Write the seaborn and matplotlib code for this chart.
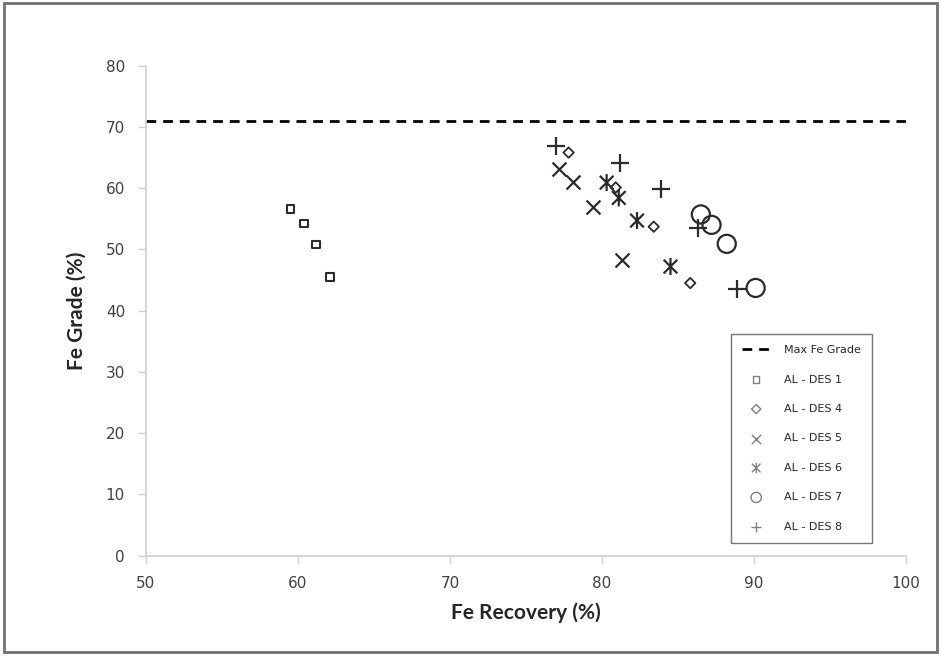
import matplotlib
matplotlib.use('Agg')
import matplotlib.pyplot as plt
from matplotlib.path import Path
from matplotlib.patches import Rectangle
import seaborn as sns
import pandas as pd

# Data
max_fe_grade = 71.0

des1_rec = [59.5, 60.4, 61.2, 62.1]
des1_grade = [56.6, 54.2, 50.8, 45.5]

des4_rec = [77.8, 80.9, 83.4, 85.8]
des4_grade = [65.8, 60.1, 53.7, 44.5]

des5_rec = [77.2, 78.1, 79.4, 81.3]
des5_grade = [63.2, 61.0, 56.9, 48.2]

des6_rec = [80.3, 81.1, 82.3, 84.5]
des6_grade = [60.9, 58.4, 54.7, 47.2]

des7_rec = [86.5, 87.2, 88.2, 90.1]
des7_grade = [55.7, 54.0, 50.9, 43.7]

des8_rec = [77.0, 81.2, 83.9, 86.3, 88.9]
des8_grade = [66.8, 64.1, 59.9, 53.5, 43.5]

series_names = ['AL - DES 1', 'AL - DES 4', 'AL - DES 5', 'AL - DES 6', 'AL - DES 7', 'AL - DES 8']

# Excel style "star" marker: an X with a vertical bar
star = Path(
    [(-0.8, -0.8), (0.8, 0.8), (-0.8, 0.8), (0.8, -0.8), (0, -1.0), (0, 1.0)],
    [Path.MOVETO, Path.LINETO, Path.MOVETO, Path.LINETO, Path.MOVETO, Path.LINETO],
)

sns.set_style('white')
plt.rcParams['font.family'] = ['DejaVu Sans']

fig = plt.figure(figsize=(9.41, 6.56), dpi=100)
ax = fig.add_axes([0.155, 0.153, 0.808, 0.747])

ax.axhline(max_fe_grade, ls='--', color='black', lw=2, dashes=(3.5, 2.5), label='Max Fe Grade')

ink = '#2b2b2b'

df1 = pd.DataFrame({'rec': des1_rec, 'grade': des1_grade})
sns.scatterplot(data=df1, x='rec', y='grade', marker='s', s=30, color=ink,
                facecolor='none', edgecolor=ink, linewidth=1.5, label=series_names[0], ax=ax)

df4 = pd.DataFrame({'rec': des4_rec, 'grade': des4_grade})
sns.scatterplot(data=df4, x='rec', y='grade', marker='D', s=28, color=ink,
                facecolor='none', edgecolor=ink, linewidth=1.3, label=series_names[1], ax=ax)

df5 = pd.DataFrame({'rec': des5_rec, 'grade': des5_grade})
sns.scatterplot(data=df5, x='rec', y='grade', marker='x', s=100, color=ink,
                linewidth=1.6, label=series_names[2], ax=ax)

df6 = pd.DataFrame({'rec': des6_rec, 'grade': des6_grade})
sns.scatterplot(data=df6, x='rec', y='grade', marker=star, s=150, color=ink,
                facecolor='none', edgecolor=ink, linewidth=1.6, label=series_names[3], ax=ax)

df7 = pd.DataFrame({'rec': des7_rec, 'grade': des7_grade})
sns.scatterplot(data=df7, x='rec', y='grade', marker='o', s=170, color=ink,
                facecolor='none', edgecolor=ink, linewidth=1.6, label=series_names[4], ax=ax)

df8 = pd.DataFrame({'rec': des8_rec, 'grade': des8_grade})
sns.scatterplot(data=df8, x='rec', y='grade', marker='+', s=150, color=ink,
                linewidth=1.6, label=series_names[5], ax=ax)

ax.set_xlim(50, 100)
ax.set_ylim(0, 80)
ax.set_xticks(range(50, 101, 10))
ax.set_yticks(range(0, 81, 10))

for side in ['top', 'right']:
    ax.spines[side].set_visible(False)
for side in ['left', 'bottom']:
    ax.spines[side].set_color('#d0d0d0')
    ax.spines[side].set_linewidth(1.2)
ax.tick_params(axis='both', direction='out', length=6, width=1, color='#d0d0d0',
               labelcolor='#404040', labelsize=11, pad=9, left=True, bottom=True)

ax.set_xlabel('Fe Recovery (%)', fontsize=15, fontweight='bold', family='Lato', labelpad=8)
ax.set_ylabel('Fe Grade (%)', fontsize=15, fontweight='bold', family='Lato', labelpad=14)

leg = ax.legend(loc='lower right', bbox_to_anchor=(0.955, 0.026), borderaxespad=0,
                fontsize=8, labelspacing=1.75, handlelength=2.6, handletextpad=1.2,
                borderpad=1.0, fancybox=False, frameon=True)
leg.get_frame().set_edgecolor('#555555')
leg.get_frame().set_linewidth(1.0)
legend_sizes = [22, 22, 45, 60, 55, 55]
for h, sz in zip(leg.legend_handles[1:], legend_sizes):
    h.set_sizes([sz])
    h.set_linewidths([1.0])
    h.set_alpha(0.6)

fig.patches.append(Rectangle((0.004, 0.006), 0.992, 0.99, transform=fig.transFigure,
                             fill=False, edgecolor='#707070', linewidth=2))

fig.savefig('out.png', dpi=100)
